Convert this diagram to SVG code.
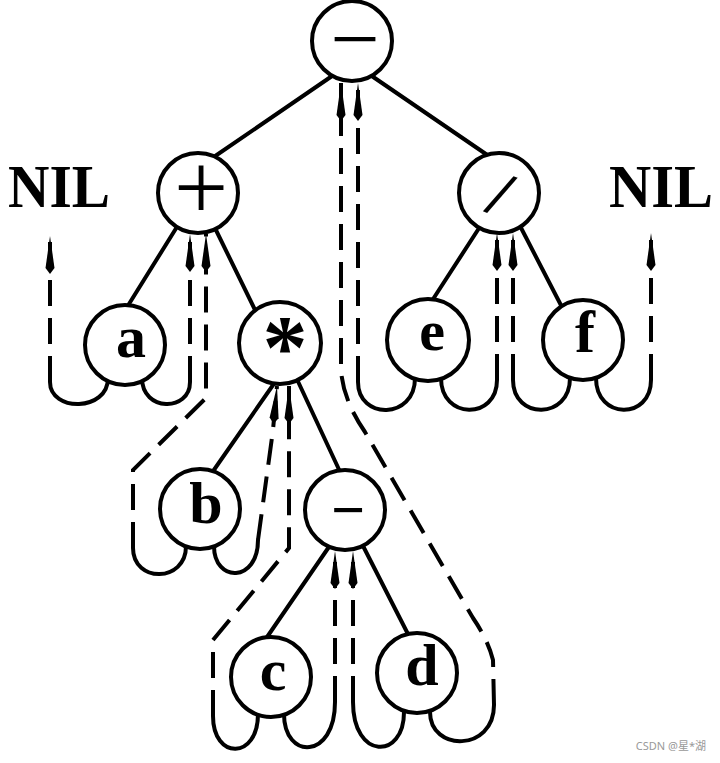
<svg xmlns="http://www.w3.org/2000/svg" width="720" height="763" viewBox="0 0 720 763">
<style>
.n{fill:#fff;stroke:#000;stroke-width:4}
.e{stroke:#000;stroke-width:4;fill:none;stroke-linecap:round}
.u{stroke:#000;stroke-width:4;fill:none;stroke-linecap:round}
.t{stroke:#000;stroke-width:4;fill:none;stroke-dasharray:26 12;marker-end:url(#ah)}
.l{font-family:"Liberation Serif",serif;font-weight:bold;text-anchor:middle;fill:#000}
.s{font-family:"Liberation Serif",serif;text-anchor:middle;fill:#000}
</style>
<defs>
<marker id="ah" markerUnits="userSpaceOnUse" markerWidth="42" markerHeight="14" refX="38" refY="7" orient="auto" viewBox="0 0 42 14">
<path d="M38,7 L6,2.5 L0,7 L6,11.5 z" fill="#000"/>
</marker>
</defs>
<g id="connectors">
<line class="e" x1="205" y1="163" x2="335" y2="74"/>
<line class="e" x1="363" y1="70" x2="499" y2="163"/>
<line class="e" x1="180" y1="222" x2="124" y2="312"/>
<line class="e" x1="212" y1="222" x2="260" y2="320"/>
<line class="e" x1="483" y1="222" x2="426" y2="310"/>
<line class="e" x1="518" y1="222" x2="565" y2="313"/>
<line class="e" x1="280" y1="375" x2="209" y2="477"/>
<line class="e" x1="295" y1="375" x2="342" y2="476"/>
<line class="e" x1="333" y1="541" x2="265" y2="640"/>
<line class="e" x1="360" y1="540" x2="411" y2="640"/>
<path class="u" d="M108,378 C108,412 50,412 50,382"/>
<path class="t" d="M50,382 L50,236"/>
<path class="u" d="M142,378 C142,412 190,412 190,382"/>
<path class="t" d="M190,382 L190,234"/>
<path class="u" d="M186,546 C186,583 133,583 133,548"/>
<path class="t" d="M133,548 L133,470 L206,398 L206,234"/>
<path class="u" d="M214,546 C214,583 258,583 258,540"/>
<path class="t" d="M258,540 L273,430 L277,386"/>
<path class="u" d="M258,714 C258,760 213,760 213,716"/>
<path class="t" d="M213,716 L213,640 L289,548 L289,386"/>
<path class="u" d="M284,714 C284,760 335,760 335,702"/>
<path class="t" d="M335,702 L335,551"/>
<path class="u" d="M404,712 C404,760 353,760 353,702"/>
<path class="t" d="M353,702 L353,551"/>
<path class="u" d="M430,712 C430,752 494,752 494,705"/>
<path class="t" d="M494,705 L493,660 Q488,640 473,618 L365,432 Q343,400 341,370 L341,83"/>
<path class="u" d="M415,378 C415,420 358,420 358,382"/>
<path class="t" d="M358,382 L358,83"/>
<path class="u" d="M441,378 C441,420 497,420 497,380"/>
<path class="t" d="M497,380 L497,233"/>
<path class="u" d="M570,378 C570,420 513,420 513,380"/>
<path class="t" d="M513,380 L513,233"/>
<path class="u" d="M596,378 C596,420 651,420 651,380"/>
<path class="t" d="M651,380 L651,233"/>
</g>
<g id="node-root"><circle class="n" cx="352" cy="41" r="40"/><text class="l" x="355" y="59" font-size="60" textLength="50" lengthAdjust="spacingAndGlyphs">−</text></g>
<g id="node-plus"><circle class="n" cx="198" cy="193" r="40"/><text class="s" x="201" y="219" font-size="96">+</text></g>
<g id="node-div"><circle class="n" cx="499" cy="193" r="40"/><text class="l" x="500" y="216" font-size="66" transform="rotate(22 500 195)">/</text></g>
<g id="node-a"><circle class="n" cx="125" cy="345" r="40"/><text class="l" x="131" y="357" font-size="60">a</text></g>
<g id="node-star"><circle class="n" cx="280" cy="343" r="41"/><text class="l" x="285" y="378" font-size="90">*</text></g>
<g id="node-e"><circle class="n" cx="428" cy="340" r="41"/><text class="l" x="432" y="350" font-size="58">e</text></g>
<g id="node-f"><circle class="n" cx="583" cy="340" r="40"/><text class="l" x="585" y="352" font-size="60">f</text></g>
<g id="node-b"><circle class="n" cx="200" cy="509" r="40"/><text class="l" x="206" y="523" font-size="60">b</text></g>
<g id="node-minus"><circle class="n" cx="345" cy="510" r="40"/><text class="l" x="348" y="530" font-size="60">−</text></g>
<g id="node-c"><circle class="n" cx="271" cy="677" r="40"/><text class="l" x="273" y="690" font-size="60">c</text></g>
<g id="node-d"><circle class="n" cx="417" cy="673" r="40"/><text class="l" x="422" y="685" font-size="60">d</text></g>
<g id="nil-left"><text class="l" x="59" y="207" font-size="62" textLength="102" lengthAdjust="spacingAndGlyphs">NIL</text></g>
<g id="nil-right"><text class="l" x="661" y="207" font-size="62" textLength="104" lengthAdjust="spacingAndGlyphs">NIL</text></g>
<text x="706" y="750" font-family="'Noto Sans','Noto Sans CJK SC',sans-serif" font-size="11" fill="#999" text-anchor="end">CSDN @星*湖</text>
</svg>
